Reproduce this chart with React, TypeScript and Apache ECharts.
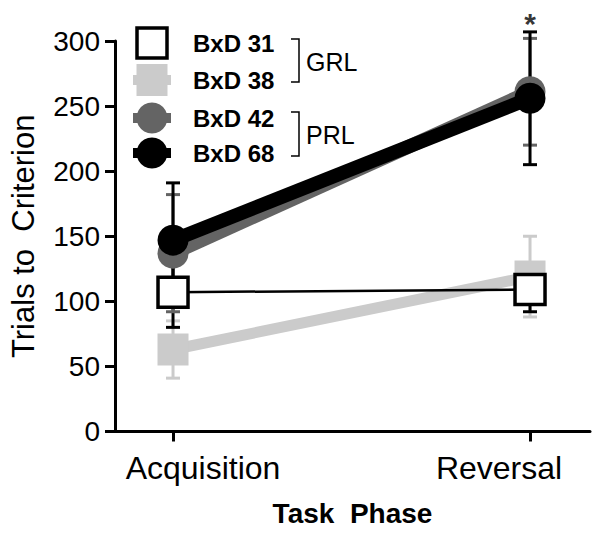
import React, { useEffect, useRef } from 'react';
import * as echarts from 'echarts';

// ---- data ----
const phases = ['Acquisition', 'Reversal'];
const phaseX = [0, 1];
const strains = ['BxD 31', 'BxD 38', 'BxD 42', 'BxD 68'];
const groupLabels = ['GRL', 'PRL'];
const yTickValues = [0, 50, 100, 150, 200, 250, 300];

const bxd31Mean = [107, 109];
const bxd31Err = [27, 17];
const bxd38Mean = [63, 119];
const bxd38Err = [22, 31];
const bxd42Mean = [137, 261];
const bxd42Err = [45, 41];
const bxd68Mean = [147, 256];
const bxd68Err = [44, 51];

const significance = ['', '*'];

const FONT = '"Liberation Sans", Arial, sans-serif';
const LIGHT = '#cbcbcb';
const DARK = '#646464';

function errorSeries(name: string, means: number[], errs: number[], color: string) {
  return {
    type: 'custom',
    name: name + ' err',
    silent: true,
    clip: false,
    encode: { x: 0, y: [1, 2] },
    data: phaseX.map((x, i) => [x, means[i] - errs[i], means[i] + errs[i]]),
    renderItem: (_params: any, api: any) => {
      const lo = api.coord([api.value(0), api.value(1)]);
      const hi = api.coord([api.value(0), api.value(2)]);
      const hw = 7;
      const style = { stroke: color, lineWidth: 3 };
      return {
        type: 'group',
        children: [
          { type: 'line', shape: { x1: lo[0], y1: lo[1], x2: hi[0], y2: hi[1] }, style },
          { type: 'line', shape: { x1: lo[0] - hw, y1: lo[1], x2: lo[0] + hw, y2: lo[1] }, style },
          { type: 'line', shape: { x1: hi[0] - hw, y1: hi[1], x2: hi[0] + hw, y2: hi[1] }, style },
        ],
      };
    },
  };
}

function pts(means: number[]) {
  return phaseX.map((x, i) => [x, means[i]]);
}

export default function App() {
  const ref = useRef<HTMLDivElement>(null);
  useEffect(() => {
    if (!ref.current) return;
    const chart = echarts.init(ref.current, undefined, { renderer: 'svg' });

    // legend (graphic)
    const rowY = [43, 80, 118, 153];
    const legendEls: any[] = [];
    const symX = 152;
    const legendStyle = [
      { kind: 'rect', fill: '#fff', stroke: '#000', stub: null },
      { kind: 'rect', fill: LIGHT, stroke: null, stub: LIGHT },
      { kind: 'circle', fill: DARK, stroke: null, stub: DARK },
      { kind: 'circle', fill: '#000', stroke: null, stub: '#000' },
    ];
    strains.forEach((s, i) => {
      const st = legendStyle[i];
      const y = rowY[i];
      if (st.stub) {
        legendEls.push({ type: 'rect', shape: { x: symX - 19, y: y - 5, width: 38, height: 10 }, style: { fill: st.stub } });
      }
      if (st.kind === 'rect') {
        legendEls.push({
          type: 'rect',
          shape: st.stroke ? { x: symX - 15, y: y - 15, width: 30, height: 30 } : { x: symX - 15.5, y: y - 16, width: 31, height: 32 },
          style: { fill: st.fill, stroke: st.stroke || undefined, lineWidth: st.stroke ? 3.5 : 0 },
        });
      } else {
        legendEls.push({ type: 'circle', shape: { cx: symX, cy: y, r: 15.5 }, style: { fill: st.fill } });
      }
      legendEls.push({
        type: 'text', x: 193, y: y + 0.5,
        style: { text: s, fontFamily: FONT, fontWeight: 'bold', fontSize: 24, fill: '#000', verticalAlign: 'middle', align: 'left' },
      });
    });
    const brackets = [[39, 82], [112, 156]];
    groupLabels.forEach((g, i) => {
      const [t, b] = brackets[i];
      legendEls.push({
        type: 'polyline',
        shape: { points: [[291, t], [299, t], [299, b], [291, b]] },
        style: { stroke: '#000', lineWidth: 1.5, fill: null },
      });
      legendEls.push({
        type: 'text', x: 306, y: (t + b) / 2 + 1,
        style: { text: g, fontFamily: FONT, fontSize: 25, fill: '#000', verticalAlign: 'middle', align: 'left' },
      });
    });

    const lineBase = {
      type: 'line',
      silent: true,
      z: 2,
    };

    chart.setOption({
      animation: false,
      backgroundColor: '#fff',
      grid: { left: 115, right: 10, top: 41, bottom: 105.5, containLabel: false, outerBoundsMode: 'none' },
      xAxis: {
        type: 'value',
        min: -0.1625,
        max: 1.168,
        splitLine: { show: false },
        axisLine: { onZero: false, lineStyle: { color: '#000', width: 3 } },
        axisTick: { customValues: phaseX, length: 10, lineStyle: { color: '#000', width: 3 } },
        axisLabel: {
          customValues: phaseX,
          margin: 20,
          formatter: (v: number) => {
            const i = Math.round(v);
            return i === 0 ? '{a|' + phases[0] + '}' : '{b|' + phases[1] + '}';
          },
          rich: {
            a: { fontFamily: FONT, fontSize: 32, color: '#000', padding: [0, 0, 0, 60] },
            b: { fontFamily: FONT, fontSize: 32, color: '#000', padding: [0, 62, 0, 0] },
          },
        },
        name: 'Task  Phase',
        nameLocation: 'middle',
        nameGap: 68,
        nameTextStyle: { fontFamily: FONT, fontSize: 28, fontWeight: 'bold', color: '#000' },
      },
      yAxis: {
        type: 'value',
        min: yTickValues[0],
        max: yTickValues[yTickValues.length - 1],
        interval: 50,
        splitLine: { show: false },
        axisLine: { show: true, onZero: false, lineStyle: { color: '#000', width: 3 } },
        axisTick: { show: true, length: 10, lineStyle: { color: '#000', width: 3 } },
        axisLabel: { margin: 15, fontFamily: FONT, fontSize: 28, color: '#000' },
        name: 'Trials to  Criterion',
        nameLocation: 'middle',
        nameRotate: 90,
        nameGap: 76,
        nameTextStyle: { fontFamily: FONT, fontSize: 31, color: '#000' },
      },
      graphic: legendEls,
      series: [
        errorSeries('BxD 38', bxd38Mean, bxd38Err, LIGHT),
        {
          ...lineBase, name: strains[1], data: pts(bxd38Mean),
          symbol: 'rect', symbolSize: [31, 32],
          itemStyle: { color: LIGHT },
          lineStyle: { color: LIGHT, width: 11 },
        },
        errorSeries('BxD 31', bxd31Mean, bxd31Err, '#000'),
        {
          ...lineBase, name: strains[0], data: pts(bxd31Mean),
          symbol: 'rect', symbolSize: 30,
          itemStyle: { color: '#fff', borderColor: '#000', borderWidth: 3.5 },
          lineStyle: { color: '#000', width: 2.5 },
        },
        errorSeries('BxD 42', bxd42Mean, bxd42Err, DARK),
        {
          ...lineBase, name: strains[2], data: pts(bxd42Mean),
          symbol: 'circle', symbolSize: 31,
          itemStyle: { color: DARK },
          lineStyle: { color: DARK, width: 14 },
        },
        errorSeries('BxD 68', bxd68Mean, bxd68Err, '#000'),
        {
          ...lineBase, name: strains[3], data: pts(bxd68Mean),
          symbol: 'circle', symbolSize: 31,
          itemStyle: { color: '#000' },
          lineStyle: { color: '#000', width: 14 },
        },
        {
          type: 'scatter',
          name: 'significance',
          silent: true,
          clip: false,
          z: 5,
          symbol: 'rect',
          symbolSize: 1,
          itemStyle: { color: 'rgba(0,0,0,0)' },
          data: phaseX
            .map((x, i) => ({ value: [x, bxd68Mean[i] + bxd68Err[i]], mark: significance[i] }))
            .filter((d) => d.mark !== ''),
          label: {
            show: true,
            position: 'inside',
            offset: [0, -8],
            formatter: (p: any) => p.data.mark,
            fontFamily: FONT,
            fontSize: 30,
            fontWeight: 'bold',
            color: '#000',
          },
        },
      ],
    });
    return () => chart.dispose();
  }, []);
  return <div ref={ref} style={{ position: 'fixed', left: 0, top: 0, width: 600, height: 537 }} />;
}
